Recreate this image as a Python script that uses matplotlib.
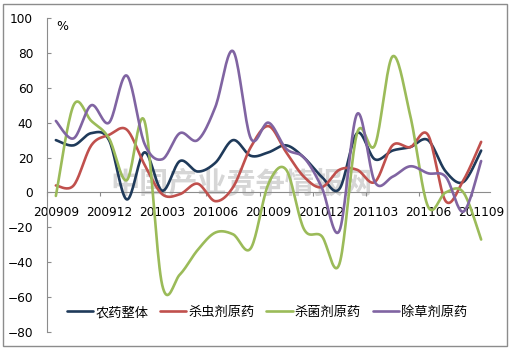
import numpy as np
import matplotlib
matplotlib.use("Agg")
import matplotlib.pyplot as plt
from matplotlib.patches import Rectangle

plt.rcParams['font.family'] = ['DejaVu Sans', 'Noto Sans CJK SC']

months = ["200909", "200910", "200911", "200912", "201001", "201002", "201003",
          "201004", "201005", "201006", "201007", "201008", "201009", "201010",
          "201011", "201012", "201101", "201102", "201103", "201104", "201105",
          "201106", "201107", "201108", "201109"]
overall = [30, 27, 34, 30, -4, 23, 1, 18, 12, 17, 30, 21, 23, 27, 20, 9, 2, 34, 19, 24, 26, 30, 12, 6, 24]
insecticide = [4, 4, 27, 33, 36, 16, -1, -1, 5, -5, 3, 26, 38, 23, 9, 3, 13, 13, 6, 27, 26, 33, -5, 7, 29]
fungicide = [-2, 50, 41, 31, 7, 41, -53, -47, -33, -23, -24, -32, 5, 13, -21, -25, -41, 34, 27, 78, 44, -8, 0, 0, -27]
herbicide = [41, 31, 50, 40, 67, 28, 19, 34, 30, 49, 81, 31, 40, 25, 20, 3, -22, 45, 6, 9, 15, 11, 9, -11, 18]
series_names = ["农药整体", "杀虫剂原药", "杀菌剂原药", "除草剂原药"]
colors = ["#1F3A5A", "#C0504D", "#9BBB59", "#8064A2"]


def smooth(y, n=20):
    y = np.asarray(y, float)
    x = np.arange(len(y), dtype=float)
    P = np.column_stack([x, y])
    pts = []
    for i in range(len(P) - 1):
        p0 = P[i - 1] if i > 0 else P[i]
        p1 = P[i]
        p2 = P[i + 1]
        p3 = P[i + 2] if i + 2 < len(P) else P[i + 1]
        c1 = p1 + (p2 - p0) / 6.0
        c2 = p2 - (p3 - p1) / 6.0
        t = np.linspace(0, 1, n, endpoint=(i == len(P) - 2))[:, None]
        b = (1 - t) ** 3 * p1 + 3 * (1 - t) ** 2 * t * c1 + 3 * (1 - t) * t ** 2 * c2 + t ** 3 * p2
        pts.append(b)
    pts = np.vstack(pts)
    return pts[:, 0], pts[:, 1]


fig = plt.figure(figsize=(5.13, 3.51), dpi=100)
fig.patches.append(Rectangle((3 / 513, 5 / 351), 504 / 513, 342 / 351, transform=fig.transFigure,
                             fill=False, edgecolor="#8c8c8c", linewidth=1.0))
ax = fig.add_axes([47 / 513, 1 - 332 / 351, 443 / 513, 314 / 351])

# watermark
ax.text(10.5, 5, "中国产业竞争情报网", family=['Noto Sans CJK SC'], fontsize=21,
        color="#d6d6d6", ha="center", va="center", zorder=0, fontweight="bold")

handles = []
for vals, name, c in zip([overall, insecticide, fungicide, herbicide], series_names, colors):
    xs, ys = smooth(vals)
    h, = ax.plot(xs, ys, color=c, lw=1.9, label=name, solid_capstyle="round", zorder=3)
    handles.append(h)

ax.set_xlim(-0.5, len(months) - 0.5)
ax.set_ylim(-80, 100)
ax.set_yticks(np.arange(-80, 101, 20))
ax.tick_params(axis='y', direction='in', length=3, color="#8c8c8c", labelsize=8.7, pad=10)

for s in ['top', 'right']:
    ax.spines[s].set_visible(False)
ax.spines['left'].set_color("#8c8c8c")
ax.spines['bottom'].set_position(('data', 0))
ax.spines['bottom'].set_color("#8c8c8c")
ax.set_xticks(np.arange(-0.5, len(months), 3))
ax.set_xticklabels([])
ax.tick_params(axis='x', which='major', direction='out', length=3, color="#8c8c8c")
ax.set_xticks(np.arange(0, len(months), 3), minor=True)
ax.set_xticklabels(months[::3], minor=True, fontsize=8.7)
ax.tick_params(axis='x', which='minor', length=0, pad=10)

ax.text(0.02, 0.995, "%", transform=ax.transAxes, fontsize=9, ha="left", va="top")

leg = ax.legend(handles=handles, loc="center", bbox_to_anchor=(0.497, 0.062), ncol=4,
                frameon=False, prop={'family': ['Noto Sans CJK SC'], 'size': 9.5},
                handlelength=2.0, handletextpad=0.15, columnspacing=0.9, borderaxespad=0)

fig.savefig("out.png", dpi=100)
